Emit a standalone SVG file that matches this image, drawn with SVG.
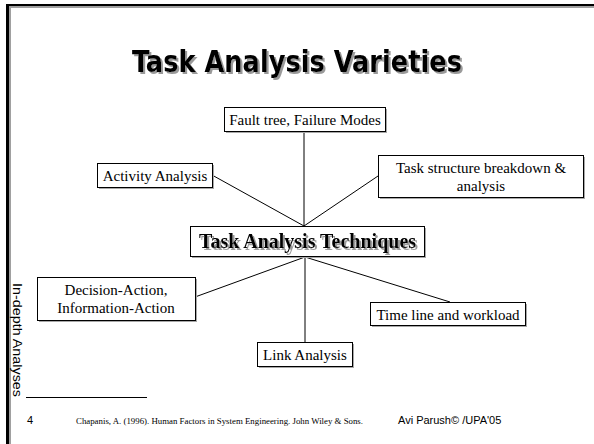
<svg xmlns="http://www.w3.org/2000/svg" width="594" height="444" viewBox="0 0 594 444">
  <defs>
    <filter id="textShadow" x="-5%" y="-20%" width="110%" height="140%">
      <feOffset in="SourceAlpha" dx="2" dy="2" result="off"/>
      <feFlood flood-color="#9a9a9a"/>
      <feComposite in2="off" operator="in" result="shade"/>
      <feMerge>
        <feMergeNode in="shade"/>
        <feMergeNode in="SourceGraphic"/>
      </feMerge>
    </filter>
  </defs>
  <style>
    .box { fill: #ffffff; stroke: #000000; stroke-width: 1; }
    .shadow { fill: #a8a8a8; }
    .lbl { font-family: "Liberation Serif", "Times New Roman", serif; font-size: 15px; fill: #000; text-anchor: middle; }
    .conn { stroke: #000; stroke-width: 1; fill: none; }
    .sans { font-family: "Liberation Sans", Arial, sans-serif; fill: #000; }
  </style>
  <rect x="0" y="0" width="594" height="444" fill="#ffffff"/>

  <!-- frame rule along top and left -->
  <g id="frame">
    <rect x="8" y="6" width="586" height="2" fill="#a0a0a0"/>
    <rect x="9" y="6" width="2" height="438" fill="#a0a0a0"/>
    <rect x="6" y="4" width="588" height="2" fill="#000"/>
    <rect x="6" y="4" width="3" height="440" fill="#000"/>
  </g>

  <!-- title with drop shadow -->
  <g id="title" filter="url(#textShadow)">
    <text x="297" y="72" text-anchor="middle" font-family="'Liberation Sans Narrow', 'DejaVu Sans Condensed', 'Liberation Sans', sans-serif" font-weight="bold" font-size="30" fill="#000" textLength="330" lengthAdjust="spacingAndGlyphs">Task Analysis Varieties</text>
  </g>

  <!-- connectors -->
  <g id="connectors">
    <line class="conn" x1="304" y1="131" x2="304" y2="226"/>
    <line class="conn" x1="212" y1="175" x2="304" y2="226"/>
    <line class="conn" x1="378" y1="176" x2="304" y2="226"/>
    <line class="conn" x1="305" y1="257" x2="195" y2="297"/>
    <line class="conn" x1="305" y1="257" x2="450" y2="302"/>
    <line class="conn" x1="305" y1="257" x2="305" y2="342"/>
  </g>

  <g id="fault-tree">
    <rect class="shadow" x="226" y="109" width="161" height="24"/>
    <rect class="box" x="224.5" y="107.5" width="161" height="24"/>
    <text class="lbl" x="305" y="125">Fault tree, Failure Modes</text>
  </g>

  <g id="activity-analysis">
    <rect class="shadow" x="99" y="165" width="115" height="24"/>
    <rect class="box" x="97.5" y="163.5" width="115" height="24"/>
    <text class="lbl" x="155" y="181">Activity Analysis</text>
  </g>

  <g id="task-structure">
    <rect class="shadow" x="380" y="157" width="205" height="42"/>
    <rect class="box" x="378.5" y="155.5" width="205" height="42"/>
    <text class="lbl" x="481" y="173">Task structure breakdown &amp;</text>
    <text class="lbl" x="481" y="191">analysis</text>
  </g>

  <g id="techniques">
    <rect class="shadow" x="192" y="228" width="234" height="30"/>
    <rect class="box" x="190.5" y="226.5" width="234" height="30"/>
    <text x="307.5" y="248" text-anchor="middle" font-family="'Liberation Serif', 'Times New Roman', serif" font-weight="bold" font-size="20" fill="#000" filter="url(#textShadow)">Task Analysis Techniques</text>
  </g>

  <g id="decision-action">
    <rect class="shadow" x="39" y="279" width="158" height="43"/>
    <rect class="box" x="37.5" y="277.5" width="158" height="43"/>
    <text class="lbl" x="116" y="295">Decision-Action,</text>
    <text class="lbl" x="116" y="313">Information-Action</text>
  </g>

  <g id="time-line">
    <rect class="shadow" x="372" y="304" width="155" height="23"/>
    <rect class="box" x="370.5" y="302.5" width="155" height="23"/>
    <text class="lbl" x="448" y="319.5">Time line and workload</text>
  </g>

  <g id="link-analysis">
    <rect class="shadow" x="259" y="344" width="95" height="24"/>
    <rect class="box" x="257.5" y="342.5" width="95" height="24"/>
    <text class="lbl" x="305" y="360">Link Analysis</text>
  </g>

  <!-- side label -->
  <text class="sans" font-size="12" text-anchor="middle" textLength="114" lengthAdjust="spacingAndGlyphs" transform="translate(13 340) rotate(90)">In-depth Analyses</text>

  <!-- footer -->
  <line x1="26" y1="397.5" x2="147" y2="397.5" stroke="#000" stroke-width="1"/>
  <text class="sans" x="27" y="424" font-size="11">4</text>
  <text x="76" y="424" font-family="'Liberation Serif', 'Times New Roman', serif" font-size="9" fill="#000" textLength="287" lengthAdjust="spacingAndGlyphs">Chapanis, A. (1996).  Human Factors in System Engineering.  John Wiley &amp; Sons.</text>
  <text class="sans" x="398" y="424" font-size="11">Avi Parush© /UPA'05</text>
</svg>
